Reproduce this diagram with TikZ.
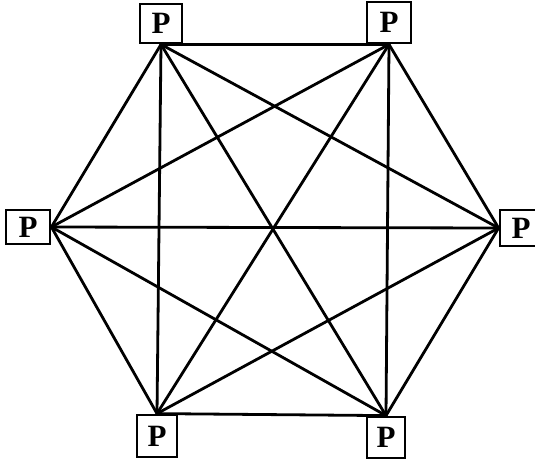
\documentclass[tikz,border=0pt]{standalone}
\usepackage{fontspec}
\setmainfont{Liberation Serif}
\begin{document}
\begin{tikzpicture}[x=1pt,y=-1pt,
  pbox/.style={draw, line width=2.8pt, fill=white, inner sep=0pt, font=\fontsize{31}{31}\selectfont\bfseries},
  edge/.style={line width=2.8pt, line cap=round}]
\useasboundingbox (0,0) rectangle (535,460);
\node[pbox, minimum width=42pt, minimum height=39pt] (tl) at (161,23.5) {P};
\node[pbox, minimum width=44pt, minimum height=41pt] (tr) at (389,22.5) {P};
\node[pbox, minimum width=44pt, minimum height=34pt] (l) at (28,227) {P};
\node[pbox, minimum width=42pt, minimum height=36pt] (r) at (521,228) {P};
\node[pbox, minimum width=40pt, minimum height=42pt] (bl) at (157,436) {P};
\node[pbox, minimum width=38pt, minimum height=41pt] (br) at (386,437.5) {P};
\draw[edge] (tl.south) -- (tr.south);
\draw[edge] (tl.south) -- (l.east);
\draw[edge] (tl.south) -- (r.west);
\draw[edge] (tl.south) -- (bl.north);
\draw[edge] (tl.south) -- (br.north);
\draw[edge] (tr.south) -- (l.east);
\draw[edge] (tr.south) -- (r.west);
\draw[edge] (tr.south) -- (bl.north);
\draw[edge] (tr.south) -- (br.north);
\draw[edge] (l.east) -- (r.west);
\draw[edge] (l.east) -- (bl.north);
\draw[edge] (l.east) -- (br.north);
\draw[edge] (r.west) -- (bl.north);
\draw[edge] (r.west) -- (br.north);
\draw[edge] (bl.north) -- (br.north);
\end{tikzpicture}
\end{document}
